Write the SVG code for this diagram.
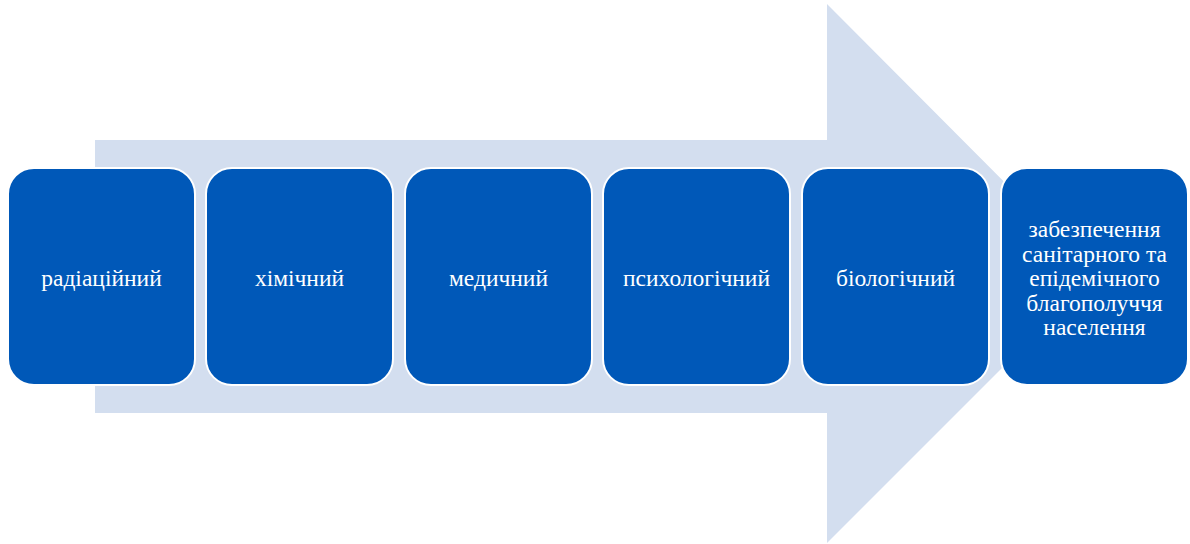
<svg xmlns="http://www.w3.org/2000/svg" width="1190" height="544" viewBox="0 0 1190 544">
<style>
.box{fill:#0058b8;stroke:#ffffff;stroke-width:2}
</style>
<rect width="1190" height="544" fill="#ffffff"/>
<g id="arrow">
<polygon points="95,140 827,140 827,4 1096,274 827,543 827,413 95,413" fill="#d3deef"/>
</g>
<g id="connectors"></g>
<g font-family="Liberation Serif, Times New Roman, serif" font-size="23.5" fill="#ffffff" text-anchor="middle">
<g id="n1"><rect class="box" x="8" y="168" width="187" height="217" rx="26"/><text x="101.5" y="286">радіаційний</text></g>
<g id="n2"><rect class="box" x="206" y="168" width="187" height="217" rx="26"/><text x="299.5" y="286">хімічний</text></g>
<g id="n3"><rect class="box" x="405" y="168" width="187" height="217" rx="26"/><text x="498.5" y="286">медичний</text></g>
<g id="n4"><rect class="box" x="603" y="168" width="187" height="217" rx="26"/><text x="696.5" y="286">психологічний</text></g>
<g id="n5"><rect class="box" x="802" y="168" width="187" height="217" rx="26"/><text x="895.5" y="286">біологічний</text></g>
<g id="n6"><rect class="box" x="1001" y="168" width="187" height="217" rx="26"/>
<text x="1094.5" y="237">забезпечення</text>
<text x="1094.5" y="261.5">санітарного та</text>
<text x="1094.5" y="286">епідемічного</text>
<text x="1094.5" y="310.5">благополуччя</text>
<text x="1094.5" y="335">населення</text>
</g>
</g>
</svg>
